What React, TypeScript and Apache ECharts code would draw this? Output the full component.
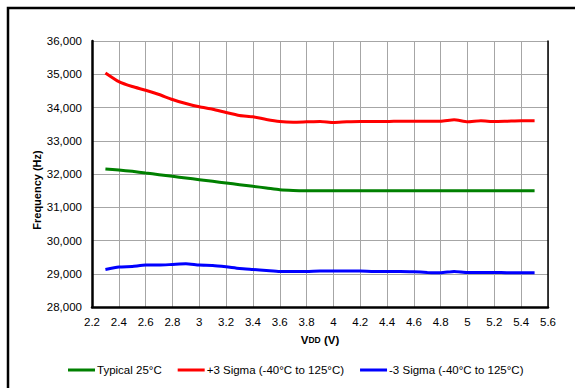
import React, { useEffect, useRef } from "react";
import * as echarts from "echarts";

const vdd = [2.3, 2.4, 2.5, 2.6, 2.7, 2.8, 2.9, 3.0, 3.1, 3.2, 3.3, 3.4, 3.5, 3.6, 3.7, 3.8, 3.9, 4.0, 4.1, 4.2, 4.3, 4.4, 4.5, 4.6, 4.7, 4.8, 4.9, 5.0, 5.1, 5.2, 5.3, 5.4, 5.5];
const typical = [32150, 32120, 32080, 32030, 31980, 31930, 31880, 31830, 31780, 31730, 31680, 31630, 31580, 31525, 31505, 31500, 31500, 31500, 31500, 31500, 31500, 31500, 31500, 31500, 31500, 31500, 31500, 31500, 31500, 31500, 31500, 31500, 31500];
const plus3 = [35040, 34780, 34630, 34520, 34390, 34240, 34120, 34020, 33950, 33850, 33760, 33720, 33640, 33580, 33560, 33570, 33580, 33550, 33570, 33580, 33580, 33580, 33590, 33590, 33590, 33590, 33630, 33570, 33600, 33580, 33590, 33600, 33600];
const minus3 = [29130, 29200, 29220, 29260, 29260, 29280, 29300, 29260, 29250, 29210, 29160, 29130, 29100, 29070, 29070, 29070, 29080, 29080, 29080, 29080, 29070, 29070, 29070, 29060, 29040, 29030, 29070, 29040, 29040, 29040, 29030, 29030, 29030];
const seriesNames = ["Typical 25°C", "+3 Sigma (-40°C to 125°C)", "-3 Sigma (-40°C to 125°C)"];
const seriesColors = ["#008000", "#ff0000", "#0000ff"];
const yTitle = "Frequency (Hz)";

const FONT = "'Liberation Sans', Arial, sans-serif";

export default function App() {
  const ref = useRef<HTMLDivElement>(null);
  useEffect(() => {
    if (!ref.current) return;
    const chart = echarts.init(ref.current, null, { renderer: "svg" });
    const all = [typical, plus3, minus3];
    chart.setOption({
      animation: false,
      backgroundColor: "#ffffff",
      textStyle: { fontFamily: FONT },
      graphic: [
        {
          type: "rect",
          shape: { x: 8, y: 8, width: 620, height: 420 },
          style: { fill: "none", stroke: "#000", lineWidth: 2.5 },
          silent: true,
        },
        {
          type: "text",
          x: 37,
          y: 190,
          rotation: Math.PI / 2,
          style: {
            text: yTitle,
            fontFamily: FONT,
            fontSize: 11,
            fontWeight: "bold",
            fill: "#000",
            align: "center",
            verticalAlign: "middle",
          },
          silent: true,
        },
      ],
      grid: { left: 92, right: 27, top: 41, bottom: 81, containLabel: false },
      legend: {
        left: 68,
        top: 364,
        padding: 0,
        itemWidth: 27,
        itemHeight: 3,
        itemGap: 16,
        icon: "rect",
        textStyle: { fontFamily: FONT, fontSize: 11.5, color: "#000", padding: [0, 0, 0, -3] },
        data: seriesNames,
      },
      xAxis: {
        type: "value",
        min: 2.2,
        max: 5.6,
        interval: 0.2,
        name: "{v|V}{d|DD}{v| (V)}",
        nameLocation: "middle",
        nameGap: 27,
        nameTextStyle: {
          rich: {
            v: { fontFamily: FONT, fontSize: 11.5, fontWeight: "bold", color: "#000" },
            d: { fontFamily: FONT, fontSize: 8.5, fontWeight: "bold", color: "#000" },
          },
        },
        axisLine: { show: true, onZero: false, lineStyle: { color: "#000", width: 2.5 } },
        axisTick: { show: false },
        axisLabel: {
          fontFamily: FONT,
          fontSize: 11.5,
          color: "#000",
          margin: 9,
          formatter: (v: number) => String(Math.round(v * 10) / 10),
        },
        splitLine: { show: true, lineStyle: { color: "#a6a6a6", width: 1 } },
      },
      yAxis: [
        {
          type: "value",
          min: 28000,
          max: 36000,
          interval: 1000,
          axisLine: { show: true, lineStyle: { color: "#000", width: 2.5 } },
          axisTick: { show: false },
          axisLabel: {
            fontFamily: FONT,
            fontSize: 11.5,
            color: "#000",
            margin: 10,
            formatter: (v: number) => v.toLocaleString("en-US"),
          },
          splitLine: { show: true, lineStyle: { color: "#a6a6a6", width: 1 } },
        },
        {
          type: "value",
          min: 28000,
          max: 36000,
          interval: 1000,
          position: "right",
          axisLine: { show: true, lineStyle: { color: "#000", width: 1.5 } },
          axisTick: { show: false },
          axisLabel: { show: false },
          splitLine: { show: false },
        },
      ],
      series: all.map((vals, i) => ({
        name: seriesNames[i],
        type: "line",
        yAxisIndex: 0,
        data: vdd.map((x, j) => [x, vals[j]]),
        symbol: "none",
        smooth: 0.2,
        lineStyle: { color: seriesColors[i], width: 3 },
        itemStyle: { color: seriesColors[i] },
      })),
    });
    return () => chart.dispose();
  }, []);
  return (
    <div
      ref={ref}
      style={{ position: "fixed", left: 0, top: 0, width: 575, height: 388 }}
    />
  );
}
